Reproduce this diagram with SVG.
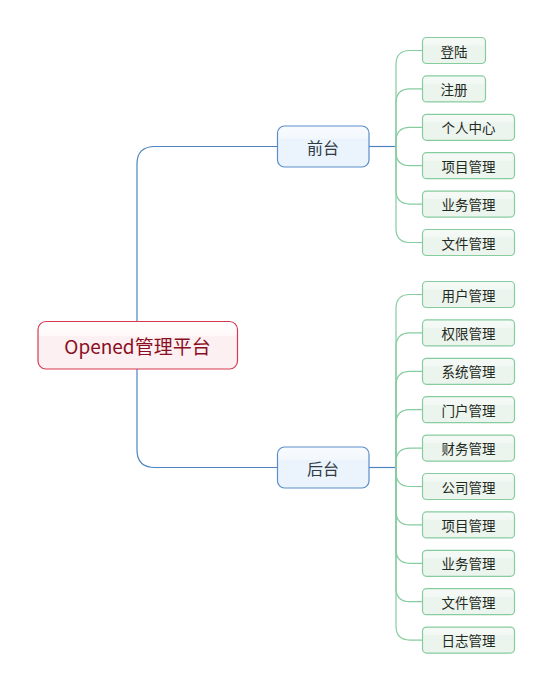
<svg xmlns="http://www.w3.org/2000/svg" width="553" height="691" viewBox="0 0 553 691">
<defs>
<linearGradient id="gR" x1="0" y1="0" x2="0" y2="1"><stop offset="0" stop-color="#ffffff"/><stop offset="0.3" stop-color="#fff8f9"/><stop offset="0.32" stop-color="#fdf0f2"/><stop offset="1" stop-color="#fdf0f2"/></linearGradient>
<linearGradient id="gB" x1="0" y1="0" x2="0" y2="1"><stop offset="0" stop-color="#f8fbfe"/><stop offset="0.3" stop-color="#f3f8fd"/><stop offset="0.32" stop-color="#ebf4fc"/><stop offset="1" stop-color="#ebf4fc"/></linearGradient>
<linearGradient id="gG" x1="0" y1="0" x2="0" y2="1"><stop offset="0" stop-color="#f6faf7"/><stop offset="0.3" stop-color="#f2f8f3"/><stop offset="0.32" stop-color="#ecf4ee"/><stop offset="1" stop-color="#ecf4ee"/></linearGradient>
</defs>
<style>
text{font-family:"Noto Sans CJK SC","Liberation Sans",sans-serif;text-anchor:middle;dominant-baseline:central}
.root rect{fill:url(#gR);stroke:#d63a50;stroke-width:1.2}
.root text{fill:#8a0f1e;font-size:19px}
.mid rect{fill:url(#gB);stroke:#5b8dc9;stroke-width:1.2}
.mid text{fill:#2f3a45;font-size:16px}
.leaf rect{fill:url(#gG);stroke:#86cc9f;stroke-width:1.2}
.leaf text{fill:#1f2a22;font-size:13.5px}
.cb{fill:none;stroke:#4f82c0;stroke-width:1.2}
.cg{fill:none;stroke:#86cc9f;stroke-width:1.2}
</style>
<g id="connectors">
<path class="cb" d="M137,321 V164 Q137,146.5 155,146.5 H277"/>
<path class="cb" d="M137,369 V450 Q137,467.5 155,467.5 H277"/>
<path class="cb" d="M369,146.5 H396"/>
<path class="cb" d="M369,467.5 H396"/>
<path class="cg" d="M396,146.5 V64.5 Q396,50.5 410,50.5 H422"/>
<path class="cg" d="M396,146.5 V102.9 Q396,88.9 410,88.9 H422"/>
<path class="cg" d="M396,146.5 V141.3 Q396,127.3 410,127.3 H422"/>
<path class="cg" d="M396,146.5 V151.7 Q396,165.7 410,165.7 H422"/>
<path class="cg" d="M396,146.5 V190.1 Q396,204.1 410,204.1 H422"/>
<path class="cg" d="M396,146.5 V228.5 Q396,242.5 410,242.5 H422"/>
<path class="cg" d="M396,467.5 V308.5 Q396,294.5 410,294.5 H422"/>
<path class="cg" d="M396,467.5 V346.9 Q396,332.9 410,332.9 H422"/>
<path class="cg" d="M396,467.5 V385.3 Q396,371.3 410,371.3 H422"/>
<path class="cg" d="M396,467.5 V423.7 Q396,409.7 410,409.7 H422"/>
<path class="cg" d="M396,467.5 V462.1 Q396,448.1 410,448.1 H422"/>
<path class="cg" d="M396,467.5 V472.5 Q396,486.5 410,486.5 H422"/>
<path class="cg" d="M396,467.5 V510.9 Q396,524.9 410,524.9 H422"/>
<path class="cg" d="M396,467.5 V549.3 Q396,563.3 410,563.3 H422"/>
<path class="cg" d="M396,467.5 V587.7 Q396,601.7 410,601.7 H422"/>
<path class="cg" d="M396,467.5 V626.1 Q396,640.1 410,640.1 H422"/>
</g>
<g id="root" class="root"><rect x="38" y="321.5" width="199.5" height="47.5" rx="8"/><text x="137.5" y="345.5">Opened管理平台</text></g>
<g id="qiantai" class="mid"><rect x="277.5" y="126" width="91.5" height="41" rx="7"/><text x="323" y="146.5">前台</text></g>
<g id="houtai" class="mid"><rect x="277.5" y="447" width="91.5" height="41" rx="7"/><text x="323" y="467.5">后台</text></g>
<g id="n1" class="leaf"><rect x="422.5" y="37.5" width="63" height="26" rx="4"/><text x="454" y="50.5">登陆</text></g>
<g id="n2" class="leaf"><rect x="422.5" y="75.9" width="63" height="26" rx="4"/><text x="454" y="88.9">注册</text></g>
<g id="n3" class="leaf"><rect x="422.5" y="114.3" width="92" height="26" rx="4"/><text x="468.5" y="127.3">个人中心</text></g>
<g id="n4" class="leaf"><rect x="422.5" y="152.7" width="92" height="26" rx="4"/><text x="468.5" y="165.7">项目管理</text></g>
<g id="n5" class="leaf"><rect x="422.5" y="191.1" width="92" height="26" rx="4"/><text x="468.5" y="204.1">业务管理</text></g>
<g id="n6" class="leaf"><rect x="422.5" y="229.5" width="92" height="26" rx="4"/><text x="468.5" y="242.5">文件管理</text></g>
<g id="m1" class="leaf"><rect x="422.5" y="281.5" width="92" height="26" rx="4"/><text x="468.5" y="294.5">用户管理</text></g>
<g id="m2" class="leaf"><rect x="422.5" y="319.9" width="92" height="26" rx="4"/><text x="468.5" y="332.9">权限管理</text></g>
<g id="m3" class="leaf"><rect x="422.5" y="358.3" width="92" height="26" rx="4"/><text x="468.5" y="371.3">系统管理</text></g>
<g id="m4" class="leaf"><rect x="422.5" y="396.7" width="92" height="26" rx="4"/><text x="468.5" y="409.7">门户管理</text></g>
<g id="m5" class="leaf"><rect x="422.5" y="435.1" width="92" height="26" rx="4"/><text x="468.5" y="448.1">财务管理</text></g>
<g id="m6" class="leaf"><rect x="422.5" y="473.5" width="92" height="26" rx="4"/><text x="468.5" y="486.5">公司管理</text></g>
<g id="m7" class="leaf"><rect x="422.5" y="511.9" width="92" height="26" rx="4"/><text x="468.5" y="524.9">项目管理</text></g>
<g id="m8" class="leaf"><rect x="422.5" y="550.3" width="92" height="26" rx="4"/><text x="468.5" y="563.3">业务管理</text></g>
<g id="m9" class="leaf"><rect x="422.5" y="588.7" width="92" height="26" rx="4"/><text x="468.5" y="601.7">文件管理</text></g>
<g id="m10" class="leaf"><rect x="422.5" y="627.1" width="92" height="26" rx="4"/><text x="468.5" y="640.1">日志管理</text></g>
</svg>
